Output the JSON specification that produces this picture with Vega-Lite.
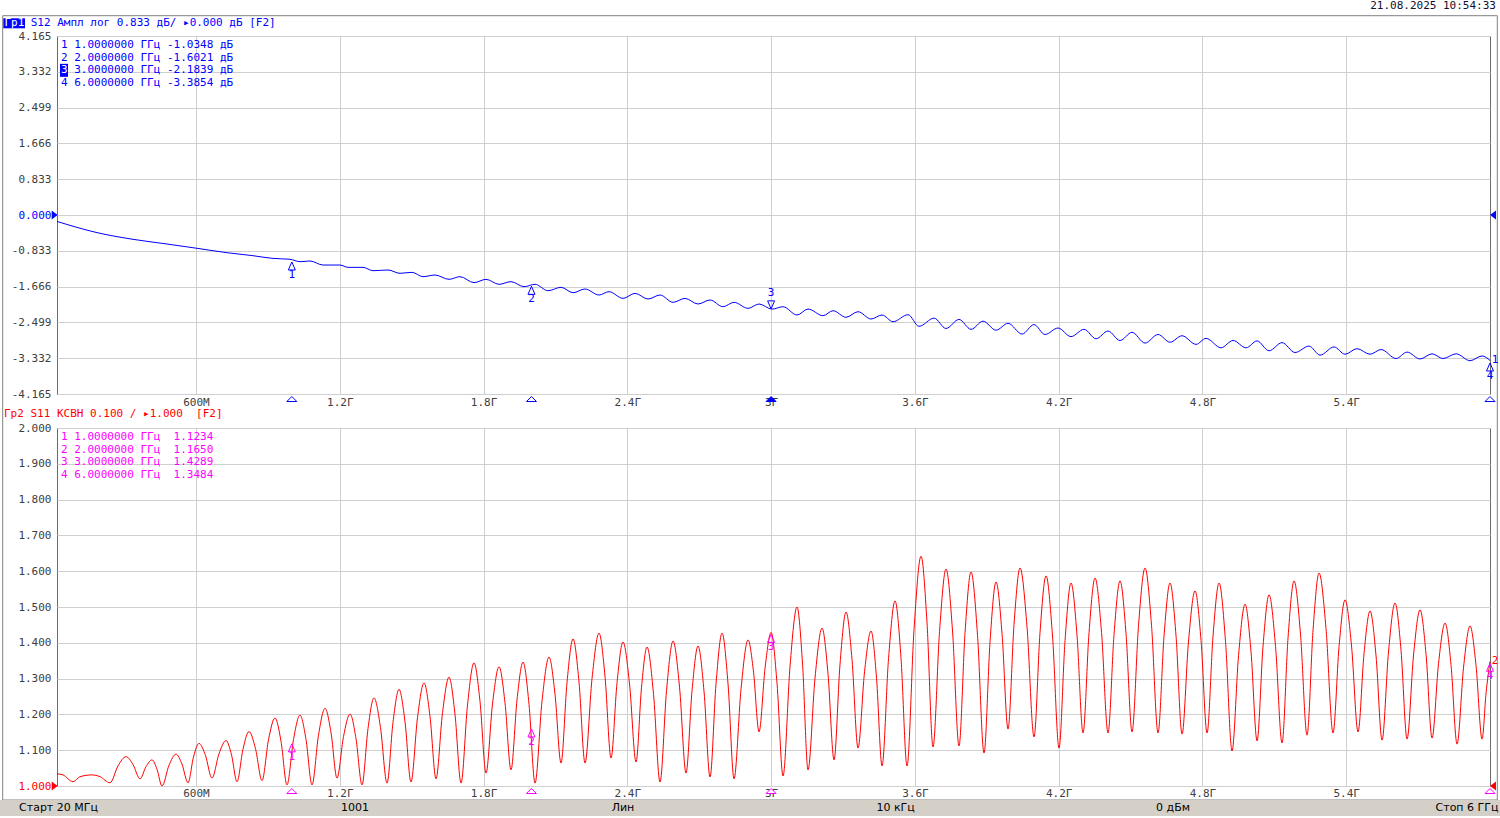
{
"$schema": "https://vega.github.io/schema/vega-lite/v6.json",
"autosize": {"type": "none"},
"padding": {"left": 57, "top": 36, "right": 1443, "bottom": 782},
"background": "#ffffff",
"config": {
  "view": {"stroke": "#6a6a6a", "strokeWidth": 1},
  "axis": {"grid": true, "gridColor": "#cfcfcf", "gridWidth": 1, "ticks": false, "domain": false, "labelFont": "DejaVu Sans Mono", "labelFontSize": 11, "labelColor": "#404040", "labelFlush": false, "labelOverlap": false, "labelBound": false},
  "text": {"font": "DejaVu Sans Mono", "fontSize": 11},
  "point": {"opacity": 1}
},
"datasets": {
  "s12": [{"f":0.02,"v":-0.15},{"f":0.1869,"v":-0.41},{"f":0.3372,"v":-0.566},{"f":0.479,"v":-0.675},{"f":0.6042,"v":-0.775},{"f":0.7294,"v":-0.877},{"f":0.8379,"v":-0.947},{"f":0.9214,"v":-1.01},{"f":0.9923,"v":-1.03},{"f":1.0341,"v":-1.086},{"f":1.0758,"v":-1.07},{"f":1.13,"v":-1.164},{"f":1.201,"v":-1.164},{"f":1.2344,"v":-1.218},{"f":1.297,"v":-1.218},{"f":1.3387,"v":-1.296},{"f":1.4013,"v":-1.28},{"f":1.4514,"v":-1.357},{"f":1.5014,"v":-1.334},{"f":1.5474,"v":-1.435},{"f":1.5975,"v":-1.396},{"f":1.6559,"v":-1.497},{"f":1.7018,"v":-1.435},{"f":1.7602,"v":-1.574},{"f":1.8103,"v":-1.497},{"f":1.8646,"v":-1.613},{"f":1.9146,"v":-1.551},{"f":1.9689,"v":-1.668},{"f":2.0148,"v":-1.613},{"f":2.069,"v":-1.761},{"f":2.1233,"v":-1.683},{"f":2.1734,"v":-1.808},{"f":2.2235,"v":-1.722},{"f":2.2819,"v":-1.862},{"f":2.3236,"v":-1.784},{"f":2.3821,"v":-1.94},{"f":2.4321,"v":-1.823},{"f":2.4864,"v":-1.955},{"f":2.5365,"v":-1.862},{"f":2.5908,"v":-2.032},{"f":2.6408,"v":-1.94},{"f":2.6951,"v":-2.071},{"f":2.7452,"v":-1.978},{"f":2.7994,"v":-2.134},{"f":2.8453,"v":-2.032},{"f":2.9038,"v":-2.172},{"f":2.9497,"v":-2.071},{"f":3.0039,"v":-2.19},{"f":3.0498,"v":-2.134},{"f":3.1082,"v":-2.327},{"f":3.1541,"v":-2.188},{"f":3.2167,"v":-2.343},{"f":3.2584,"v":-2.227},{"f":3.3127,"v":-2.38},{"f":3.3628,"v":-2.25},{"f":3.417,"v":-2.42},{"f":3.4629,"v":-2.327},{"f":3.5088,"v":-2.483},{"f":3.5714,"v":-2.32},{"f":3.6173,"v":-2.59},{"f":3.6799,"v":-2.4},{"f":3.73,"v":-2.64},{"f":3.7842,"v":-2.43},{"f":3.8343,"v":-2.66},{"f":3.8844,"v":-2.47},{"f":3.9387,"v":-2.68},{"f":3.9887,"v":-2.52},{"f":4.0471,"v":-2.77},{"f":4.0972,"v":-2.55},{"f":4.1431,"v":-2.78},{"f":4.1974,"v":-2.63},{"f":4.2516,"v":-2.83},{"f":4.3059,"v":-2.66},{"f":4.356,"v":-2.88},{"f":4.406,"v":-2.7},{"f":4.4561,"v":-2.92},{"f":4.5062,"v":-2.73},{"f":4.5605,"v":-2.98},{"f":4.6147,"v":-2.78},{"f":4.6648,"v":-2.96},{"f":4.7149,"v":-2.81},{"f":4.7733,"v":-3.01},{"f":4.815,"v":-2.87},{"f":4.8776,"v":-3.09},{"f":4.9277,"v":-2.92},{"f":4.9819,"v":-3.09},{"f":5.0279,"v":-2.93},{"f":5.078,"v":-3.16},{"f":5.1322,"v":-2.97},{"f":5.1865,"v":-3.2},{"f":5.2449,"v":-3.05},{"f":5.2908,"v":-3.26},{"f":5.3492,"v":-3.07},{"f":5.3951,"v":-3.24},{"f":5.4452,"v":-3.11},{"f":5.4995,"v":-3.24},{"f":5.5454,"v":-3.13},{"f":5.608,"v":-3.34},{"f":5.6539,"v":-3.19},{"f":5.7081,"v":-3.35},{"f":5.7582,"v":-3.23},{"f":5.8041,"v":-3.34},{"f":5.8584,"v":-3.23},{"f":5.9168,"v":-3.39},{"f":5.9669,"v":-3.28},{"f":6.0,"v":-3.385}],
  "s11": [{"f":0.02,"v":1.034},{"f":0.045,"v":1.031},{"f":0.0868,"v":1.012},{"f":0.116,"v":1.026},{"f":0.1661,"v":1.031},{"f":0.1994,"v":1.026},{"f":0.2412,"v":1.009},{"f":0.2745,"v":1.056},{"f":0.3079,"v":1.082},{"f":0.3372,"v":1.06},{"f":0.3664,"v":1.02},{"f":0.3914,"v":1.054},{"f":0.4164,"v":1.073},{"f":0.4373,"v":1.047},{"f":0.4582,"v":1.0},{"f":0.4874,"v":1.058},{"f":0.5166,"v":1.089},{"f":0.5416,"v":1.061},{"f":0.5667,"v":1.009},{"f":0.5896,"v":1.081},{"f":0.6126,"v":1.119},{"f":0.6397,"v":1.085},{"f":0.6668,"v":1.022},{"f":0.696,"v":1.09},{"f":0.7253,"v":1.127},{"f":0.7482,"v":1.087},{"f":0.7712,"v":1.012},{"f":0.7962,"v":1.103},{"f":0.8212,"v":1.152},{"f":0.8484,"v":1.104},{"f":0.8755,"v":1.015},{"f":0.9026,"v":1.129},{"f":0.9297,"v":1.19},{"f":0.9548,"v":1.125},{"f":0.9798,"v":1.003},{"f":1.0069,"v":1.13},{"f":1.0341,"v":1.198},{"f":1.0591,"v":1.13},{"f":1.0842,"v":1.003},{"f":1.1113,"v":1.142},{"f":1.1384,"v":1.217},{"f":1.1635,"v":1.149},{"f":1.1885,"v":1.022},{"f":1.2156,"v":1.138},{"f":1.2428,"v":1.201},{"f":1.2678,"v":1.132},{"f":1.2928,"v":1.003},{"f":1.3179,"v":1.161},{"f":1.3429,"v":1.246},{"f":1.37,"v":1.163},{"f":1.3972,"v":1.008},{"f":1.4222,"v":1.178},{"f":1.4472,"v":1.27},{"f":1.4723,"v":1.179},{"f":1.4973,"v":1.011},{"f":1.5244,"v":1.191},{"f":1.5516,"v":1.288},{"f":1.5766,"v":1.194},{"f":1.6016,"v":1.02},{"f":1.6288,"v":1.205},{"f":1.6559,"v":1.304},{"f":1.6809,"v":1.2},{"f":1.706,"v":1.008},{"f":1.7331,"v":1.226},{"f":1.7602,"v":1.344},{"f":1.7853,"v":1.236},{"f":1.8103,"v":1.036},{"f":1.8374,"v":1.229},{"f":1.8646,"v":1.333},{"f":1.8896,"v":1.232},{"f":1.9146,"v":1.045},{"f":1.9397,"v":1.241},{"f":1.9647,"v":1.346},{"f":1.9898,"v":1.228},{"f":2.0148,"v":1.008},{"f":2.044,"v":1.237},{"f":2.0732,"v":1.36},{"f":2.0983,"v":1.256},{"f":2.1233,"v":1.064},{"f":2.1484,"v":1.29},{"f":2.1734,"v":1.411},{"f":2.1984,"v":1.29},{"f":2.2235,"v":1.064},{"f":2.2527,"v":1.3},{"f":2.2819,"v":1.427},{"f":2.307,"v":1.305},{"f":2.332,"v":1.078},{"f":2.3571,"v":1.289},{"f":2.3821,"v":1.402},{"f":2.4092,"v":1.285},{"f":2.4364,"v":1.067},{"f":2.4593,"v":1.276},{"f":2.4823,"v":1.388},{"f":2.5094,"v":1.256},{"f":2.5365,"v":1.011},{"f":2.5637,"v":1.267},{"f":2.5908,"v":1.405},{"f":2.6179,"v":1.276},{"f":2.645,"v":1.036},{"f":2.6701,"v":1.267},{"f":2.6951,"v":1.391},{"f":2.7202,"v":1.263},{"f":2.7452,"v":1.025},{"f":2.7702,"v":1.286},{"f":2.7953,"v":1.427},{"f":2.8203,"v":1.285},{"f":2.8453,"v":1.02},{"f":2.8746,"v":1.272},{"f":2.9038,"v":1.408},{"f":2.9267,"v":1.318},{"f":2.9497,"v":1.151},{"f":2.9747,"v":1.329},{"f":3.0,"v":1.429},{"f":3.0248,"v":1.286},{"f":3.0498,"v":1.028},{"f":3.079,"v":1.335},{"f":3.1082,"v":1.5},{"f":3.1312,"v":1.341},{"f":3.1541,"v":1.045},{"f":3.1833,"v":1.302},{"f":3.2125,"v":1.441},{"f":3.2376,"v":1.312},{"f":3.2626,"v":1.073},{"f":3.2877,"v":1.341},{"f":3.3127,"v":1.486},{"f":3.3377,"v":1.353},{"f":3.3628,"v":1.106},{"f":3.3899,"v":1.319},{"f":3.417,"v":1.433},{"f":3.44,"v":1.301},{"f":3.4629,"v":1.056},{"f":3.4901,"v":1.356},{"f":3.5172,"v":1.517},{"f":3.5422,"v":1.356},{"f":3.5672,"v":1.056},{"f":3.5964,"v":1.437},{"f":3.6257,"v":1.642},{"f":3.6507,"v":1.455},{"f":3.6757,"v":1.109},{"f":3.7029,"v":1.432},{"f":3.73,"v":1.606},{"f":3.7571,"v":1.433},{"f":3.7842,"v":1.112},{"f":3.8093,"v":1.428},{"f":3.8343,"v":1.598},{"f":3.8614,"v":1.421},{"f":3.8886,"v":1.092},{"f":3.9136,"v":1.403},{"f":3.9387,"v":1.57},{"f":3.9637,"v":1.426},{"f":3.9887,"v":1.159},{"f":4.0138,"v":1.452},{"f":4.0388,"v":1.609},{"f":4.068,"v":1.444},{"f":4.0972,"v":1.137},{"f":4.1223,"v":1.43},{"f":4.1473,"v":1.587},{"f":4.1744,"v":1.419},{"f":4.2016,"v":1.106},{"f":4.2266,"v":1.406},{"f":4.2516,"v":1.567},{"f":4.2767,"v":1.42},{"f":4.3017,"v":1.148},{"f":4.3268,"v":1.429},{"f":4.3518,"v":1.581},{"f":4.3789,"v":1.429},{"f":4.406,"v":1.148},{"f":4.4311,"v":1.424},{"f":4.4561,"v":1.573},{"f":4.4812,"v":1.425},{"f":4.5062,"v":1.151},{"f":4.5333,"v":1.449},{"f":4.5605,"v":1.609},{"f":4.5876,"v":1.448},{"f":4.6147,"v":1.148},{"f":4.6398,"v":1.42},{"f":4.6648,"v":1.567},{"f":4.6898,"v":1.419},{"f":4.7149,"v":1.145},{"f":4.742,"v":1.405},{"f":4.7691,"v":1.545},{"f":4.7942,"v":1.406},{"f":4.8192,"v":1.148},{"f":4.8443,"v":1.42},{"f":4.8693,"v":1.567},{"f":4.8964,"v":1.403},{"f":4.9235,"v":1.098},{"f":4.9507,"v":1.365},{"f":4.9778,"v":1.508},{"f":5.0028,"v":1.374},{"f":5.0279,"v":1.126},{"f":5.0529,"v":1.391},{"f":5.078,"v":1.534},{"f":5.1051,"v":1.389},{"f":5.1322,"v":1.12},{"f":5.1572,"v":1.414},{"f":5.1823,"v":1.573},{"f":5.2094,"v":1.422},{"f":5.2365,"v":1.142},{"f":5.2616,"v":1.436},{"f":5.2866,"v":1.595},{"f":5.3158,"v":1.439},{"f":5.345,"v":1.148},{"f":5.3701,"v":1.39},{"f":5.3951,"v":1.52},{"f":5.4222,"v":1.391},{"f":5.4494,"v":1.151},{"f":5.4744,"v":1.371},{"f":5.4995,"v":1.489},{"f":5.5245,"v":1.363},{"f":5.5495,"v":1.128},{"f":5.5767,"v":1.377},{"f":5.6038,"v":1.511},{"f":5.6288,"v":1.378},{"f":5.6539,"v":1.131},{"f":5.681,"v":1.366},{"f":5.7081,"v":1.492},{"f":5.7332,"v":1.367},{"f":5.7582,"v":1.134},{"f":5.7853,"v":1.343},{"f":5.8125,"v":1.455},{"f":5.8375,"v":1.337},{"f":5.8625,"v":1.117},{"f":5.8897,"v":1.332},{"f":5.9168,"v":1.447},{"f":5.9418,"v":1.336},{"f":5.9669,"v":1.131},{"f":5.9836,"v":1.26},{"f":6.0,"v":1.348}],
  "m12": [{"m":1,"f":1.0,"v":-1.0348,"label":"1.0000000 ГГц -1.0348 дБ"},{"m":2,"f":2.0,"v":-1.6021,"label":"2.0000000 ГГц -1.6021 дБ"},{"m":3,"f":3.0,"v":-2.1839,"label":"3.0000000 ГГц -2.1839 дБ"},{"m":4,"f":6.0,"v":-3.3854,"label":"6.0000000 ГГц -3.3854 дБ"}],
  "m11": [{"m":1,"f":1.0,"v":1.1234,"label":"1.0000000 ГГц \u00a01.1234"},{"m":2,"f":2.0,"v":1.165,"label":"2.0000000 ГГц \u00a01.1650"},{"m":3,"f":3.0,"v":1.4289,"label":"3.0000000 ГГц \u00a01.4289"},{"m":4,"f":6.0,"v":1.3484,"label":"6.0000000 ГГц \u00a01.3484"}],
  "status": [{"label":"Старт 20 МГц","f":0.0263},{"label":"1001","f":1.2636},{"label":"Лин","f":2.382},{"label":"10 кГц","f":3.5195},{"label":"0 дБм","f":4.6772},{"label":"Стоп 6 ГГц","f":5.904}]
},
"bounds": "flush",
"spacing": 34,
"vconcat": [
  {
    "width": 1433, "height": 358,
    "layer": [
      {
        "data": {"name": "s12"},
        "mark": {"type": "line", "color": "#0000ff", "strokeWidth": 1, "interpolate": "monotone"},
        "encoding": {
          "x": {"field": "f", "type": "quantitative", "title": null, "scale": {"domain": [0.02, 6], "nice": false, "zero": false}, "axis": {"values": [0.6, 1.2, 1.8, 2.4, 3, 3.6, 4.2, 4.8, 5.4], "tickCount": 20, "labelExpr": "datum.value < 1 ? format(datum.value * 1000, 'd') + 'М' : format(datum.value, '.1~f') + 'Г'", "labelPadding": 2}},
          "y": {"field": "v", "type": "quantitative", "title": null, "scale": {"domain": [-4.165, 4.165], "nice": false, "zero": false}, "axis": {"values": [-4.165, -3.332, -2.499, -1.666, -0.833, 0, 0.833, 1.666, 2.499, 3.332, 4.165], "tickCount": 20, "labelExpr": "(datum.value < 0 ? '-' : '') + format(abs(datum.value), '.3f')", "labelPadding": 6, "labelColor": {"condition": {"test": "datum.value == 0", "value": "#0000ff"}, "value": "#404040"}}}
        }
      },
      {"data": {"values": [{}]}, "mark": {"type": "rect", "fillOpacity": 0, "stroke": "#808080", "strokeWidth": 1}, "encoding": {"x": {"datum": -0.2066, "type": "quantitative"}, "x2": {"datum": 6.0305}, "y": {"datum": 4.6373, "type": "quantitative"}, "y2": {"datum": -13.612}}},
      {"data": {"values": [{}]}, "mark": {"type": "rect", "fill": "#0000ff"}, "encoding": {"x": {"datum": -0.2041, "type": "quantitative"}, "x2": {"datum": -0.1135}, "y": {"datum": 4.577, "type": "quantitative"}, "y2": {"datum": 4.344}}},
      {"data": {"values": [{}]}, "mark": {"type": "text", "align": "left", "baseline": "middle", "color": "#ffffff"}, "encoding": {"x": {"datum": -0.1991, "type": "quantitative"}, "y": {"datum": 4.4675, "type": "quantitative"}, "text": {"value": "Гр1"}}},
      {"data": {"values": [{}]}, "mark": {"type": "text", "align": "left", "baseline": "middle", "color": "#0000ff"}, "encoding": {"x": {"datum": -0.0898, "type": "quantitative"}, "y": {"datum": 4.4675, "type": "quantitative"}, "text": {"value": "S12 Ампл лог 0.833 дБ/ ▸0.000 дБ [F2]"}}},
      {"data": {"values": [{}]}, "mark": {"type": "text", "align": "right", "baseline": "middle", "color": "#101030"}, "encoding": {"x": {"datum": 6.025, "type": "quantitative"}, "y": {"datum": 4.863, "type": "quantitative"}, "text": {"value": "21.08.2025 10:54:33"}}},
      {"data": {"name": "m12"}, "transform": [{"filter": "datum.m != 3"}], "mark": {"type": "point", "shape": "M0,-1L0.875,1L-0.875,1Z", "size": 64, "filled": false, "stroke": "#0000ff", "strokeWidth": 1, "yOffset": 6.5}, "encoding": {"x": {"field": "f", "type": "quantitative"}, "y": {"field": "v", "type": "quantitative"}}},
      {"data": {"name": "m12"}, "transform": [{"filter": "datum.m != 3"}], "mark": {"type": "text", "color": "#0000ff", "fontSize": 11, "dy": 15.5}, "encoding": {"x": {"field": "f", "type": "quantitative"}, "y": {"field": "v", "type": "quantitative"}, "text": {"field": "m"}}},
      {"data": {"name": "m12"}, "transform": [{"filter": "datum.m == 3"}], "mark": {"type": "point", "shape": "M0,1L0.875,-1L-0.875,-1Z", "size": 64, "filled": false, "stroke": "#0000ff", "strokeWidth": 1, "yOffset": -4}, "encoding": {"x": {"field": "f", "type": "quantitative"}, "y": {"field": "v", "type": "quantitative"}}},
      {"data": {"name": "m12"}, "transform": [{"filter": "datum.m == 3"}], "mark": {"type": "text", "color": "#0000ff", "fontSize": 11, "dy": -16}, "encoding": {"x": {"field": "f", "type": "quantitative"}, "y": {"field": "v", "type": "quantitative"}, "text": {"field": "m"}}},
      {"data": {"name": "m12"}, "transform": [{"filter": "datum.m == 4"}], "mark": {"type": "text", "color": "#0000ff", "fontSize": 11, "dx": 5}, "encoding": {"x": {"field": "f", "type": "quantitative"}, "y": {"field": "v", "type": "quantitative"}, "text": {"value": "1"}}},
      {"data": {"name": "m12"}, "mark": {"type": "point", "shape": "M-1,0.5L0,-0.5L1,0.5Z", "size": 100, "filled": true, "stroke": "#0000ff", "strokeWidth": 1, "yOffset": 5}, "encoding": {"x": {"field": "f", "type": "quantitative"}, "y": {"datum": -4.165, "type": "quantitative"}, "fill": {"condition": {"test": "datum.m == 3", "value": "#0000ff"}, "value": "#ffffff"}}},
      {"data": {"values": [{}]}, "mark": {"type": "point", "shape": "M-0.667,-1L0.667,0L-0.667,1Z", "size": 81, "filled": true, "color": "#0000ff", "xOffset": -2.3}, "encoding": {"x": {"datum": 0.02, "type": "quantitative"}, "y": {"datum": 0, "type": "quantitative"}}},
      {"data": {"values": [{}]}, "mark": {"type": "point", "shape": "M0.667,-1L-0.667,0L0.667,1Z", "size": 81, "filled": true, "color": "#0000ff", "xOffset": 3}, "encoding": {"x": {"datum": 6.0, "type": "quantitative"}, "y": {"datum": 0, "type": "quantitative"}}},
      {"data": {"name": "m12"}, "transform": [{"filter": "datum.m == 3"}], "mark": {"type": "point", "shape": "M-0.615,-1H0.615V1H-0.615Z", "size": 169, "filled": true, "color": "#0000ff", "xOffset": 3}, "encoding": {"x": {"datum": 0.0367, "type": "quantitative"}, "y": {"datum": 3.9556, "type": "quantitative"}, "yOffset": {"field": "m", "type": "quantitative", "scale": {"domain": [1, 4], "range": [0, 38]}}}},
      {"data": {"name": "m12"}, "mark": {"type": "text", "align": "left", "baseline": "middle"}, "encoding": {"x": {"datum": 0.0367, "type": "quantitative"}, "y": {"datum": 3.9556, "type": "quantitative"}, "yOffset": {"field": "m", "type": "quantitative", "scale": {"domain": [1, 4], "range": [0, 38]}}, "text": {"field": "m"}, "color": {"condition": {"test": "datum.m == 3", "value": "#ffffff"}, "value": "#0000ff"}}},
      {"data": {"name": "m12"}, "mark": {"type": "text", "align": "left", "baseline": "middle", "color": "#0000ff"}, "encoding": {"x": {"datum": 0.0918, "type": "quantitative"}, "y": {"datum": 3.9556, "type": "quantitative"}, "yOffset": {"field": "m", "type": "quantitative", "scale": {"domain": [1, 4], "range": [0, 38]}}, "text": {"field": "label"}}}
    ]
  },
  {
    "width": 1433, "height": 358,
    "layer": [
      {
        "data": {"name": "s11"},
        "mark": {"type": "line", "color": "#ff0000", "strokeWidth": 1, "interpolate": "monotone"},
        "encoding": {
          "x": {"field": "f", "type": "quantitative", "title": null, "scale": {"domain": [0.02, 6], "nice": false, "zero": false}, "axis": {"values": [0.6, 1.2, 1.8, 2.4, 3, 3.6, 4.2, 4.8, 5.4], "tickCount": 20, "labelExpr": "datum.value < 1 ? format(datum.value * 1000, 'd') + 'М' : format(datum.value, '.1~f') + 'Г'", "labelPadding": 1}},
          "y": {"field": "v", "type": "quantitative", "title": null, "scale": {"domain": [1, 2], "nice": false, "zero": false}, "axis": {"values": [1, 1.1, 1.2, 1.3, 1.4, 1.5, 1.6, 1.7, 1.8, 1.9, 2], "tickCount": 20, "format": ".3f", "labelPadding": 6, "labelColor": {"condition": {"test": "datum.value == 1", "value": "#ff0000"}, "value": "#404040"}}}
        }
      },
      {"data": {"values": [{}]}, "mark": {"type": "rect", "fill": "#d4d0c8"}, "encoding": {"x": {"datum": -0.2179, "type": "quantitative"}, "x2": {"datum": 6.0417}, "y": {"datum": 0.9609, "type": "quantitative"}, "y2": {"datum": 0.9162}}},
      {"data": {"name": "status"}, "mark": {"type": "text", "font": "DejaVu Sans", "fontSize": 11, "color": "#000000", "baseline": "middle"}, "encoding": {"x": {"field": "f", "type": "quantitative"}, "y": {"datum": 0.9385, "type": "quantitative"}, "text": {"field": "label"}}},
      {"data": {"values": [{}]}, "mark": {"type": "text", "align": "left", "baseline": "middle", "color": "#ff0000"}, "encoding": {"x": {"datum": -0.2012, "type": "quantitative"}, "y": {"datum": 2.0391, "type": "quantitative"}, "text": {"value": "Гр2 S11 КСВН 0.100 / ▸1.000 \u00a0[F2]"}}},
      {"data": {"name": "m11"}, "mark": {"type": "point", "shape": "M0,-1L0.875,1L-0.875,1Z", "size": 64, "filled": false, "stroke": "#ff00ff", "strokeWidth": 1, "yOffset": 6}, "encoding": {"x": {"field": "f", "type": "quantitative"}, "y": {"field": "v", "type": "quantitative"}}},
      {"data": {"name": "m11"}, "mark": {"type": "text", "color": "#ff00ff", "fontSize": 11, "dy": 15}, "encoding": {"x": {"field": "f", "type": "quantitative"}, "y": {"field": "v", "type": "quantitative"}, "text": {"field": "m"}}},
      {"data": {"name": "m11"}, "transform": [{"filter": "datum.m == 4"}], "mark": {"type": "text", "color": "#ff0000", "fontSize": 11, "dx": 5}, "encoding": {"x": {"field": "f", "type": "quantitative"}, "y": {"field": "v", "type": "quantitative"}, "text": {"value": "2"}}},
      {"data": {"name": "m11"}, "mark": {"type": "point", "shape": "M-1,0.5L0,-0.5L1,0.5Z", "size": 100, "filled": true, "fill": "#ffffff", "stroke": "#ff00ff", "strokeWidth": 1, "yOffset": 5}, "encoding": {"x": {"field": "f", "type": "quantitative"}, "y": {"datum": 1, "type": "quantitative"}}},
      {"data": {"values": [{}]}, "mark": {"type": "point", "shape": "M-0.667,-1L0.667,0L-0.667,1Z", "size": 81, "filled": true, "color": "#ff0000", "xOffset": -2.3}, "encoding": {"x": {"datum": 0.02, "type": "quantitative"}, "y": {"datum": 1, "type": "quantitative"}}},
      {"data": {"values": [{}]}, "mark": {"type": "point", "shape": "M0.667,-1L-0.667,0L0.667,1Z", "size": 81, "filled": true, "color": "#ff0000", "xOffset": 3}, "encoding": {"x": {"datum": 6.0, "type": "quantitative"}, "y": {"datum": 1, "type": "quantitative"}}},
      {"data": {"name": "m11"}, "mark": {"type": "text", "align": "left", "baseline": "middle", "color": "#ff00ff"}, "encoding": {"x": {"datum": 0.0367, "type": "quantitative"}, "y": {"datum": 1.9749, "type": "quantitative"}, "yOffset": {"field": "m", "type": "quantitative", "scale": {"domain": [1, 4], "range": [0, 37.5]}}, "text": {"field": "m"}}},
      {"data": {"name": "m11"}, "mark": {"type": "text", "align": "left", "baseline": "middle", "color": "#ff00ff"}, "encoding": {"x": {"datum": 0.0918, "type": "quantitative"}, "y": {"datum": 1.9749, "type": "quantitative"}, "yOffset": {"field": "m", "type": "quantitative", "scale": {"domain": [1, 4], "range": [0, 37.5]}}, "text": {"field": "label"}}}
    ]
  }
]
}
